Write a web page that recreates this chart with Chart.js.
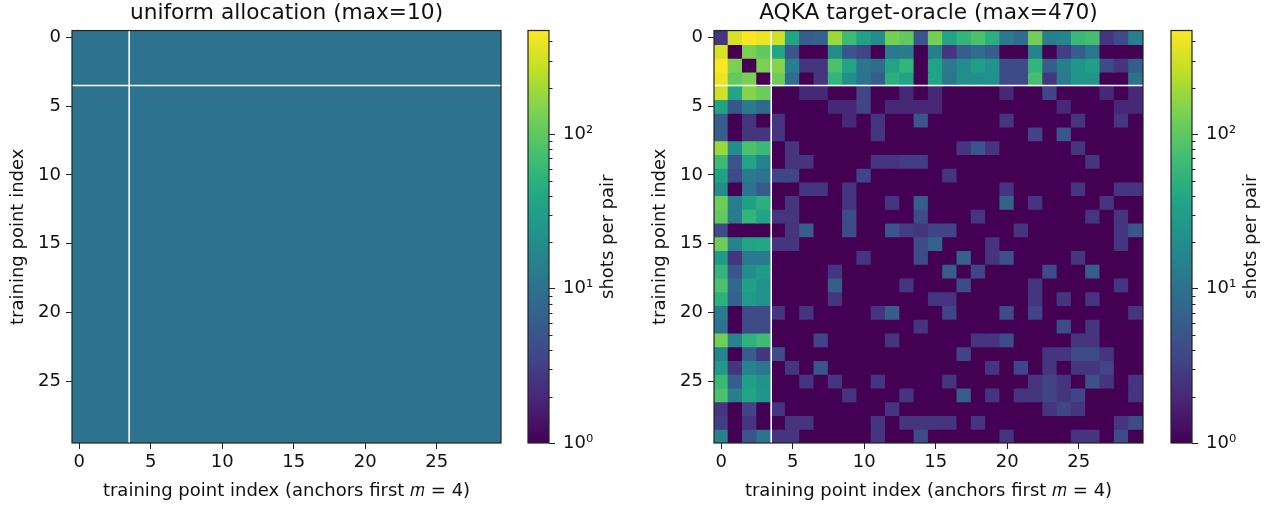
<!DOCTYPE html>
<html>
<head>
<meta charset="utf-8">
<script src="https://cdn.jsdelivr.net/npm/chart.js@4"></script>
<style>
  body { margin: 0; background: #fff; width: 1271px; height: 508px; overflow: hidden; position: relative; }
  canvas { position: absolute; top: 0; }
</style>
</head>
<body>
<canvas id="uniformChart" width="520" height="508" style="left:0"></canvas>
<canvas id="uniformBar" width="120" height="508" style="left:520px"></canvas>
<canvas id="oracleChart" width="520" height="508" style="left:642px"></canvas>
<canvas id="oracleBar" width="108" height="508" style="left:1163px"></canvas>
<script>
// Data
const pointLabels = ['0','1','2','3','4','5','6','7','8','9','10','11','12','13','14','15','16','17','18','19','20','21','22','23','24','25','26','27','28','29'];
const axisTicks = [0, 5, 10, 15, 20, 25];
const anchorEdge = 3.5;
const shotRange = [1, 470];
const colorbarMajor = [1, 10, 100];
const colorbarMinor = [2,3,4,5,6,7,8,9,20,30,40,50,60,70,80,90,200,300,400];

const uniformRow = [10,10,10,10,10,10,10,10,10,10,10,10,10,10,10,10,10,10,10,10,10,10,10,10,10,10,10,10,10,10];

const oracleShots = [
  [2.5,320,470,400,300, 37,6,7,190,65, 33,19,130,105,5, 130,35,55,80,48, 12,9,125,14,16, 62,74,2.5,4,14],
  [320,1,137,105,37, 5,1,1,19,5, 3.5,1,12,13,1, 14,2.5,6,9,6, 1,1,15,1,3, 6,11,1,1,1],
  [470,137,1,137,150, 14,2.5,2.5,80,35, 11,9,35,55,1, 35,12,19,30,22, 4,4,55,6,14, 24,32,4,2.5,6],
  [400,105,137,1,120, 9,1,2.5,55,21, 10,6,48,35,1, 35,11,21,21,21, 4,4,74,2.5,12, 24,24,1,1,10],
  [300,37,150,115,1, 1,2,2,1,1, 3.5,1,1,2,1, 2,1,1,1,1, 2,1,1,3.5,1, 1,1,2,1,2],
  [35,5,13,8,1, 1,1,1,2,2, 3.5,1,2,2,2, 2,1,1,1,1, 1,1,1,1,2, 1,1,1,2,2],
  [6,1,2.5,1,2.5, 1,1,1,1,2, 1,2.5,1,1,5, 1,1,1,1,1, 2.5,1,1,1,1, 2.5,1,1,2.5,1],
  [6,1,2.5,2.5,2.5, 1,1,1,1,1, 1,2.5,1,1,1, 1,1,1,1,1, 1,1,3.5,1,5, 1,1,1,1,1],
  [190,19,80,62,1, 2.5,1,1,1,1, 1,1,1,1,1, 1,1,2.5,5,2.5, 1,1,1,1,1, 2.5,1,1,1,1],
  [65,5,35,15,1, 2.5,2.5,1,1,1, 1,2.5,2.5,3,3, 1,1,1,1,1, 1,1,1,1,1, 1,2.5,1,1,1],
  [33,4,12,10,3.5, 3.5,1,1,1,1, 3.5,1,1,1,1, 1,2.5,1,1,1, 1,1,1,1,1, 1,1,1,1,1],
  [19,1,10,5.5,1, 1,2.5,2.5,1,2.5, 1,1,1,1,1, 1,1,1,1,1, 2.5,1,1,1,1, 2.5,1,1,2.5,2.5],
  [120,14,32,48,1, 2.5,1,1,1,2.5, 1,1,2.5,1,6, 1,1,1,1,1, 7,1,2.5,1,1, 1,1,2.5,1,1],
  [105,12,55,35,2.5, 2.5,1,1,1,4, 1,1,1,1,4, 1,1,1,2.5,1, 1,1,1,1,1, 1,2.5,1,2.5,1],
  [4,1,1,1,1, 2.5,6,1,1,4, 1,1,5,3,2.5, 3.5,3.5,1,1,1, 1,2.5,1,1,1, 1,1,1,2.5,5],
  [120,15,35,38,2.5, 2.5,1,1,1,1, 1,1,1,1,4, 7,1,1,1,2.5, 1,1,1,1,1, 1,1,1,2.5,1],
  [28,2.5,12,12,1, 1,1,1,1,1, 2.5,1,1,1,4, 1,1,7,1,2.5, 4.5,1,1,1,1, 2.5,1,1,1,1],
  [55,5,20,28,1, 1,1,1,2.5,1, 1,1,1,1,1, 1,6,1,3.5,1, 1,1,1,4,1, 1,6,1,1,1],
  [80,8,32,22,1, 1,1,1,6,1, 1,1,1,2.5,1, 1,1,4,1,1, 1,1,2.5,1,1, 1,1,1,2.5,1],
  [50,7,28,22,1, 1,1,1,2.5,1, 1,1,1,1,1, 2.5,2.5,1,1,1, 1,1,2.5,1,2.5, 1,2.5,1,1,1],
  [13,1,4,4,2.5, 1,2.5,1,1,1, 1,2.5,6,1,1, 1,3.5,1,1,1, 4,1,3.5,1,1, 1,1,1,1,2.5],
  [10,1,4,4,1, 1,1,1,1,1, 1,1,1,1,2.5, 1,1,1,1,1, 1,1,1,1,4, 1,2.5,1,1,1],
  [125,15,52,65,1, 1,1,3.5,1,1, 1,1,2.5,1,1, 1,1,1,2.5,2.5, 4,1,1,1,1, 2.5,2.5,1,1,1],
  [16,1,6,2.5,4, 1,1,1,1,1, 1,1,1,1,1, 1,1,3.5,1,1, 1,1,1,2.5,2.5, 4,4,2.5,1,1],
  [26,2.5,15,11,1, 2.5,1,5,1,1, 1,1,1,1,1, 1,1,1,1,2.5, 1,3.5,1,2.5,1, 2.5,2.5,3.5,1,1],
  [62,6,32,23,1, 1,2.5,1,2.5,1, 1,2.5,1,1,1, 1,2.5,1,1,1, 1,1,2.5,3.5,2.5, 1,4.5,2.5,1,2.5],
  [80,14,37,24,1, 1,1,1,1,2.5, 1,1,1,2.5,1, 1,1,6,1,2.5, 1,2.5,2.5,3.5,2.5, 3.5,1,1,1,2.5],
  [2.5,1,3.5,1,2.5, 1,1,1,1,1, 1,1,2.5,1,1, 1,1,1,1,1, 1,1,1,2.5,3.5, 2.5,1,1,1,1],
  [3,1,2.5,1,1, 2.5,2.5,1,1,1, 1,2.5,1,2.5,2.5, 2.5,2.5,1,2.5,1, 1,1,1,1,1, 1,1,1,2.5,4],
  [15,1,5,10,2.5, 2.5,1,1,1,1, 1,2.5,1,1,4, 1,1,1,1,1, 2.5,1,1,1,1, 2.5,2.5,1,4,1]
];
const uniformShots = pointLabels.map(() => uniformRow);

const viridis = ['#440154','#482475','#414487','#355f8d','#2a788e','#21918c','#22a884','#44bf70','#7ad151','#bddf26','#fde725'];
const FONT = '"DejaVu Sans", sans-serif';
const INK = '#222';

Chart.defaults.font.family = FONT;
Chart.defaults.color = '#111';
Chart.defaults.animation = false;
Chart.defaults.events = [];

function hexRgb(hex) {
  return [1, 3, 5].map(i => parseInt(hex.slice(i, i + 2), 16));
}

// log colour map, same as LogNorm(1, 470) on viridis
function shotColor(v) {
  const t = Math.log(v / shotRange[0]) / Math.log(shotRange[1] / shotRange[0]);
  const pos = Math.min(Math.max(t, 0), 1) * (viridis.length - 1);
  const i = Math.min(Math.floor(pos), viridis.length - 2);
  const a = hexRgb(viridis[i]), b = hexRgb(viridis[i + 1]);
  const c = a.map((x, k) => Math.round(x + (b[k] - x) * (pos - i)));
  return `rgb(${c[0]},${c[1]},${c[2]})`;
}

// white anchor lines and the box around the axes
const frameLines = {
  id: 'frameLines',
  afterDatasetsDraw(chart) {
    const { ctx, chartArea: a, scales: { x, y } } = chart;
    ctx.save();
    ctx.strokeStyle = '#fff';
    ctx.lineWidth = 1.6;
    ctx.beginPath();
    ctx.moveTo(x.getPixelForValue(anchorEdge), a.top);
    ctx.lineTo(x.getPixelForValue(anchorEdge), a.bottom);
    ctx.moveTo(a.left, y.getPixelForValue(anchorEdge));
    ctx.lineTo(a.right, y.getPixelForValue(anchorEdge));
    ctx.stroke();
    ctx.strokeStyle = INK;
    ctx.lineWidth = 1.2;
    ctx.strokeRect(a.left, a.top, a.right - a.left, a.bottom - a.top);
    ctx.restore();
  }
};

function renderHeatmap(id, title, rows) {
  new Chart(document.getElementById(id), {
    type: 'bar',
    data: {
      labels: pointLabels,
      datasets: rows.map((row, r) => ({
        data: row.map(() => [r - 0.5, r + 0.5]),
        backgroundColor: row.map(shotColor),
        borderWidth: 0,
        inflateAmount: 0.6,
        barPercentage: 1,
        categoryPercentage: 1,
        grouped: false
      }))
    },
    options: {
      responsive: false,
      layout: { padding: { right: 19 } },
      plugins: {
        legend: { display: false },
        tooltip: { enabled: false },
        title: {
          display: true,
          fullSize: false, // centred over the axes, not the canvas
          text: title,
          color: '#111',
          font: { size: 21.7, weight: 'normal', lineHeight: 1.2 },
          padding: { top: 0, bottom: 4.5 }
        }
      },
      scales: {
        x: {
          grid: { offset: false, drawOnChartArea: false, tickLength: 6, tickColor: INK },
          border: { display: false },
          afterBuildTicks: s => { s.ticks = s.ticks.filter(t => axisTicks.includes(t.value)); },
          afterFit: s => { s.height = 65; },
          ticks: { autoSkip: false, maxRotation: 0, padding: 3, font: { size: 18 } },
          title: { display: true, text: 'training point index (anchors first 𝑚 = 4)', font: { size: 18 }, padding: { top: 4, bottom: 6 } }
        },
        y: {
          reverse: true,
          min: -0.5,
          max: 29.5,
          grid: { drawOnChartArea: false, tickLength: 6, tickColor: INK },
          border: { display: false },
          afterBuildTicks: s => { s.ticks = axisTicks.map(v => ({ value: v })); },
          afterFit: s => { s.width = 72; },
          ticks: { padding: 5, font: { size: 18 } },
          title: { display: true, text: 'training point index', font: { size: 18 }, padding: { top: 8, bottom: 0 } }
        }
      }
    },
    plugins: [frameLines]
  });
}

const SUPERS = { 0: '⁰', 1: '¹', 2: '²' };

// minor ticks, box and the title of the colour bar (its title reads upward, the axis option can't do that)
const colorbarExtras = {
  id: 'colorbarExtras',
  afterDraw(chart) {
    const { ctx, chartArea: a, scales: { y } } = chart;
    ctx.save();
    ctx.strokeStyle = INK;
    ctx.lineWidth = 1;
    ctx.beginPath();
    colorbarMinor.forEach(v => {
      const py = Math.round(y.getPixelForValue(v)) + 0.5;
      ctx.moveTo(a.right, py);
      ctx.lineTo(a.right + 3.5, py);
    });
    ctx.stroke();
    ctx.lineWidth = 1.2;
    ctx.strokeRect(a.left, a.top, a.right - a.left, a.bottom - a.top);
    ctx.translate(a.right + 59, (a.top + a.bottom) / 2);
    ctx.rotate(-Math.PI / 2);
    ctx.fillStyle = '#111';
    ctx.font = '18px ' + FONT;
    ctx.textAlign = 'center';
    ctx.textBaseline = 'middle';
    ctx.fillText('shots per pair', 0, 0);
    ctx.restore();
  }
};

function renderColorbar(id, width) {
  new Chart(document.getElementById(id), {
    type: 'bar',
    data: {
      labels: ['shots'],
      datasets: [{
        data: [shotRange],
        borderWidth: 0,
        barPercentage: 1,
        categoryPercentage: 1,
        backgroundColor: c => {
          const a = c.chart.chartArea;
          if (!a) return viridis[0];
          const g = c.chart.ctx.createLinearGradient(0, a.bottom, 0, a.top);
          viridis.forEach((col, i) => g.addColorStop(i / (viridis.length - 1), col));
          return g;
        }
      }]
    },
    options: {
      responsive: false,
      layout: { padding: { left: 8, top: 30.5, bottom: 65, right: 0 } },
      plugins: { legend: { display: false }, tooltip: { enabled: false } },
      scales: {
        x: { display: false },
        y: {
          type: 'logarithmic',
          position: 'right',
          min: shotRange[0],
          max: shotRange[1],
          grid: { drawOnChartArea: false, tickLength: 6, tickColor: INK },
          border: { display: false },
          afterBuildTicks: s => { s.ticks = colorbarMajor.map(v => ({ value: v, major: true })); },
          afterFit: s => { s.width = width - 29; },
          ticks: {
            autoSkip: false,
            padding: 8,
            font: { size: 18 },
            callback: v => '10' + SUPERS[Math.round(Math.log10(v))]
          }
        }
      }
    },
    plugins: [colorbarExtras]
  });
}

renderHeatmap('uniformChart', 'uniform allocation (max=10)', uniformShots);
renderColorbar('uniformBar', 120);
renderHeatmap('oracleChart', 'AQKA target-oracle (max=470)', oracleShots);
renderColorbar('oracleBar', 108);
</script>
</body>
</html>
